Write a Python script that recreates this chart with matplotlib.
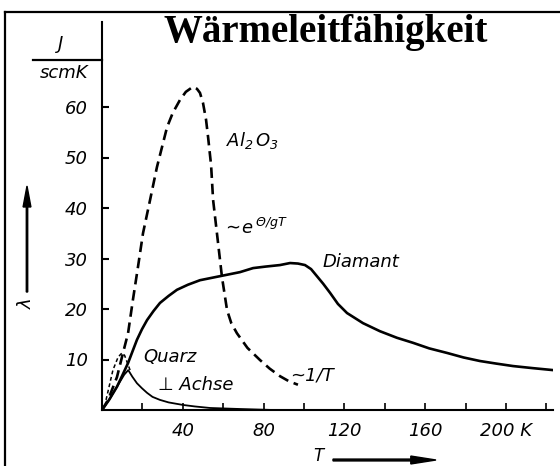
import matplotlib
matplotlib.use("Agg")
import matplotlib.pyplot as plt
from matplotlib.lines import Line2D
from matplotlib.patches import FancyArrow

W, H = 560, 466

# ---- data (T in K, lambda in J/(s cm K)) ----
al2o3_T = [0, 3.0, 7.4, 10.4, 12.9, 15.3, 17.8, 20.3, 23.8, 27.2, 32.2, 35.0, 38.6,
           41.5, 45.0, 47.0, 48.5, 50.0, 51.5, 52.5, 54.0, 55.0, 56.9, 59.4, 61.9,
           64.0, 66.8, 72.0, 78.2, 83.0, 88.1, 92.5, 97.0]
al2o3_L = [0, 2.0, 6.5, 11.3, 15.2, 21.8, 28.3, 35.0, 41.6, 48.1, 56.0, 58.8, 61.4,
           63.0, 64.0, 63.6, 62.8, 60.8, 57.5, 54.1, 48.5, 41.6, 35.0, 26.3, 19.8,
           17.2, 15.2, 12.3, 9.9, 8.2, 6.7, 5.7, 5.0]

diamant_T = [0, 3.5, 7.4, 10.0, 12.9, 15.0, 17.3, 19.8, 22.3, 25.5, 28.7, 33.0, 37.1,
             42.5, 48.5, 58.4, 68.3, 74.8, 81.0, 88.1, 93.1, 97.0, 100.5, 103.5,
             106.4, 109.5, 112.9, 116.8, 121.3, 129.2, 137.6, 146.0, 154.0, 162.0,
             170.8, 179.0, 187.1, 195.0, 203.5, 213.0, 223.3]
diamant_L = [0, 2.0, 4.6, 6.8, 9.3, 11.5, 13.9, 16.0, 17.8, 19.6, 21.2, 22.6, 23.8,
             24.8, 25.7, 26.5, 27.3, 28.1, 28.4, 28.7, 29.1, 29.0, 28.7, 27.9,
             26.5, 25.0, 23.2, 21.0, 19.2, 17.2, 15.6, 14.3, 13.3, 12.2,
             11.3, 10.4, 9.7, 9.2, 8.7, 8.3, 7.9]

quarz_perp_T = [0, 4, 8, 11, 13, 15, 17.3, 19.8, 22.3, 25.0, 28.7, 33.0, 40.1, 46.0,
                53.5, 68.0, 85.0]
quarz_perp_L = [0, 2.3, 5.0, 7.0, 7.9, 6.6, 5.3, 4.3, 3.4, 2.6, 2.0, 1.5, 1.0, 0.7,
                0.4, 0.2, 0.0]

quarz_par_T = [2.0, 5.4, 8.0, 9.9, 11.2, 12.4, 13.9]
quarz_par_L = [2.0, 7.9, 10.5, 11.3, 10.8, 9.5, 7.9]

y_ticks = [10, 20, 30, 40, 50, 60]
y_ticklabels = ["10", "20", "30", "40", "50", "60"]
x_ticks = [20, 40, 60, 80, 100, 120, 140, 160, 180, 200, 220]
x_ticklabels = ["", "40", "", "80", "", "120", "", "160", "", "200 K", ""]

title = "Wärmeleitfähigkeit"

# ---- figure ----
fig = plt.figure(figsize=(W / 100, H / 100), dpi=100)
fig.patch.set_facecolor("white")

def fx(x):
    return x / W

def fy(y):
    return 1 - y / H

# axes: T=0 at x=102 px, lambda=0 at y=410 px
x0, x1 = 102, 553
y0, y1 = 410, 22
ax = fig.add_axes([fx(x0), fy(y0), (x1 - x0) / W, (y0 - y1) / H])
ax.set_xlim(0, (x1 - x0) / 2.02)
ax.set_ylim(0, (y0 - y1) / 5.05)
ax.patch.set_alpha(0)
for s in ("top", "right"):
    ax.spines[s].set_visible(False)
for s in ("left", "bottom"):
    ax.spines[s].set_linewidth(1.5)
    ax.spines[s].set_color("black")

ax.plot(al2o3_T, al2o3_L, color="black", lw=1.9, dashes=(4, 2.2),
        solid_capstyle="butt", dash_capstyle="butt", dash_joinstyle="round")
ax.plot(diamant_T, diamant_L, color="black", lw=1.9, solid_joinstyle="round")
ax.plot(quarz_perp_T, quarz_perp_L, color="black", lw=1.3, solid_joinstyle="round")
ax.plot(quarz_par_T, quarz_par_L, color="black", lw=1.1, dashes=(2.5, 1.8))

tfont = dict(family="DejaVu Sans", style="italic", size=13)
ax.set_yticks(y_ticks)
ax.set_yticklabels(y_ticklabels, **tfont)
ax.set_xticks(x_ticks)
ax.set_xticklabels(x_ticklabels, **tfont)
ax.tick_params(axis="y", direction="in", length=5, width=1.5, pad=10)
ax.tick_params(axis="x", direction="in", length=5, width=1.2, pad=9)

# ---- frame (top and left only) ----
fig.add_artist(Line2D([fx(5), fx(560)], [fy(12), fy(12)], color="black", lw=1.6))
fig.add_artist(Line2D([fx(5), fx(5)], [fy(12), fy(466)], color="black", lw=1.6))

# ---- title ----
fig.text(fx(326), fy(42), title, ha="center", va="baseline",
         family="Liberation Serif", weight="bold", size=28)

# ---- unit J / (s cm K) ----
fig.text(fx(61), fy(44), "J", ha="center", va="center", **tfont)
fig.add_artist(Line2D([fx(33), fx(102)], [fy(60), fy(60)], color="black", lw=1.6))
fig.text(fx(64), fy(73), "scmK", ha="center", va="center", **tfont)

# ---- axis labels with arrows ----
fig.add_artist(FancyArrow(fx(27), fy(292), 0, (292 - 186) / H, width=0.0025,
                          head_width=0.014, head_length=0.045,
                          length_includes_head=True, color="black",
                          transform=fig.transFigure))
fig.text(fx(27), fy(304), "λ", rotation=90, ha="center", va="center", **tfont)

fig.text(fx(318), fy(456), "T", ha="center", va="center",
         family="DejaVu Sans", style="italic", size=12)
fig.add_artist(FancyArrow(fx(333), fy(460), (436 - 333) / W, 0, width=0.004,
                          head_width=0.017, head_length=0.045,
                          length_includes_head=True, color="black",
                          transform=fig.transFigure))

# ---- curve annotations ----
plt.rcParams["mathtext.fontset"] = "custom"
plt.rcParams["mathtext.it"] = "DejaVu Sans:italic"
plt.rcParams["mathtext.rm"] = "DejaVu Sans:italic"
fig.text(fx(226), fy(140), r"$\mathit{Al}_{2}\,\mathit{O}_{3}$", ha="left", va="center",
         size=13)
fig.text(fx(222), fy(228), r"$\sim\!\mathit{e}^{\,\Theta/gT}$", ha="left", va="center",
         size=13)
fig.text(fx(323), fy(262), "Diamant", ha="left", va="center", **tfont)
fig.text(fx(143), fy(357), "Quarz", ha="left", va="center", **tfont)
fig.text(fx(158), fy(385), "⊥ Achse", ha="left", va="center", **tfont)
fig.text(fx(290), fy(376), "~1/T", ha="left", va="center", **tfont)

fig.savefig("out.png", dpi=100, facecolor="white")
